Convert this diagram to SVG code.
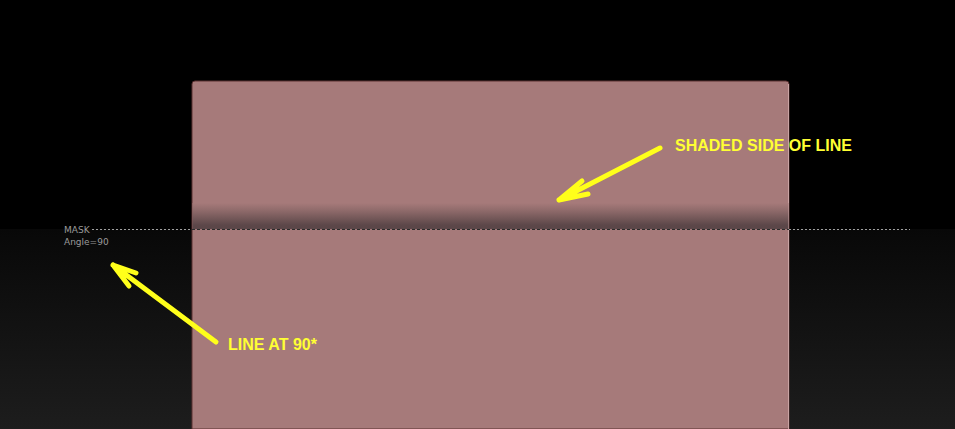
<svg xmlns="http://www.w3.org/2000/svg" width="955" height="429" viewBox="0 0 955 429">
<defs>
<linearGradient id="bg" x1="0" y1="0" x2="0" y2="1">
<stop offset="0" stop-color="#080808"/>
<stop offset="1" stop-color="#1d1d1d"/>
</linearGradient>
<linearGradient id="shade" x1="0" y1="0" x2="0" y2="1">
<stop offset="0" stop-color="#a67a7a"/>
<stop offset="0.3" stop-color="#8e6a6a"/>
<stop offset="0.85" stop-color="#5c4749"/>
<stop offset="1" stop-color="#5a4648"/>
</linearGradient>
<style>
.arrow{stroke:#ffff1a;stroke-width:5;fill:none;stroke-linecap:round;stroke-linejoin:round}
.lbl{font-family:"Liberation Sans",Arial,sans-serif;font-weight:bold;font-size:16px;fill:#ffff33}
.small{font-family:"DejaVu Sans","Liberation Sans",sans-serif;font-size:9px;fill:#9a9a9a}
</style>
</defs>
<rect x="0" y="0" width="955" height="229" fill="#000"/>
<rect x="0" y="229" width="955" height="200" fill="url(#bg)"/>
<g id="panel">
<path d="M192,429 V84 Q192,81 195,81 H786 Q789,81 789,84 V429 Z" fill="#a67a7a" stroke="#5a3030" stroke-width="1"/>
<line x1="788.5" y1="84" x2="788.5" y2="429" stroke="#c9a3a3" stroke-width="1"/>
<rect x="192.5" y="203" width="596" height="26" fill="url(#shade)"/>
</g>
<g id="mask-line">
<line x1="92" y1="229.5" x2="192" y2="229.5" stroke="#a0a0a0" stroke-width="1" stroke-dasharray="2,2"/>
<line x1="192" y1="229.5" x2="789" y2="229.5" stroke="#2a2a2a" stroke-width="1" stroke-dasharray="3,2"/>
<line x1="789" y1="229.5" x2="910" y2="229.5" stroke="#a0a0a0" stroke-width="1" stroke-dasharray="2,2"/>
<text class="small" x="64" y="232.5">MASK</text>
<text class="small" x="64" y="245">Angle=90</text>
</g>
<g id="connectors">
<path class="arrow" d="M216,342 L113,265 M113,265 L136,273 M113,265 L129,286"/>
<path class="arrow" d="M660,148 L559,200 M559,200 L582,181 M559,200 L588,194"/>
</g>
<g id="label-shaded">
<text class="lbl" x="675" y="151">SHADED SIDE OF LINE</text>
</g>
<g id="label-line">
<text class="lbl" x="228" y="349.5">LINE AT 90*</text>
</g>
</svg>
